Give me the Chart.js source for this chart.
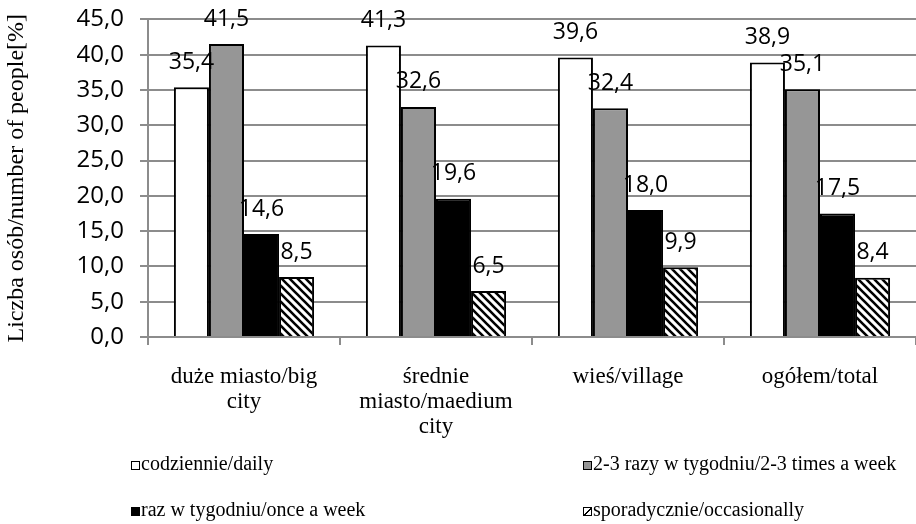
<!DOCTYPE html>
<html>
<head>
<meta charset="utf-8">
<script src="https://cdn.jsdelivr.net/npm/chart.js@4.4.1/dist/chart.umd.min.js"></script>
<style>
    html, body { margin: 0; padding: 0; background: #fff; overflow: hidden; }
    #wrap { position: relative; width: 916px; height: 524px; overflow: hidden; }
    #chart { position: absolute; left: 0; top: -11px; }
    #legend {
        position: absolute; left: 131px; top: 440px; width: 785px;
        display: grid; grid-template-columns: 452px auto; grid-auto-rows: 46px;
        font-family: 'Liberation Serif', 'Times New Roman', serif; font-size: 20px; line-height: 46px; color: #000;
    }
    .item { white-space: nowrap; }
    .box { display: inline-block; width: 7px; height: 7px; border: 1.5px solid #000; margin-right: 1px; vertical-align: baseline; }
</style>
</head>
<body>
<div id="wrap">
    <canvas id="chart" width="916" height="476" style="width:916px;height:476px;display:block"></canvas>
    <div id="legend"></div>
</div>
<script>
const categories = [
    ['duże miasto/big', 'city'],
    ['średnie', 'miasto/maedium', 'city'],
    'wieś/village',
    'ogółem/total'
];
const seriesNames = [
    'codziennie/daily',
    '2-3 razy w tygodniu/2-3 times a week',
    'raz w tygodniu/once a week',
    'sporadycznie/occasionally'
];
const daily = [35.4, 41.3, 39.6, 38.9];
const twoThreeWeek = [41.5, 32.6, 32.4, 35.1];
const onceWeek = [14.6, 19.6, 18.0, 17.5];
const occasionally = [8.5, 6.5, 9.9, 8.4];

// diagonal stripe pattern for the last series
function makeHatch() {
    const c = document.createElement('canvas');
    c.width = 8; c.height = 8;
    const g = c.getContext('2d');
    g.fillStyle = '#fff';
    g.fillRect(0, 0, 8, 8);
    g.strokeStyle = '#000';
    g.lineWidth = 2.6;
    g.beginPath();
    g.moveTo(-2, -2); g.lineTo(10, 10);
    g.moveTo(-10, -2); g.lineTo(2, 10);
    g.moveTo(6, -2); g.lineTo(18, 10);
    g.stroke();
    return g.createPattern(c, 'repeat');
}
const ctx = document.getElementById('chart').getContext('2d');
const hatch = makeHatch();
const fills = ['#ffffff', '#969696', '#000000', hatch];

const serif = "'Liberation Serif', 'Times New Roman', serif";
const sans = "'Open Sans', sans-serif";

const valueLabels = {
    id: 'valueLabels',
    afterDatasetsDraw(chart) {
        const c = chart.ctx;
        c.save();
        c.font = '23px ' + sans;
        c.fillStyle = '#000';
        c.textAlign = 'center';
        c.textBaseline = 'middle';
        chart.data.datasets.forEach((ds, i) => {
            chart.getDatasetMeta(i).data.forEach((bar, j) => {
                c.fillText(ds.data[j].toFixed(1).replace('.', ','), bar.x, bar.y - 25);
            });
        });
        c.restore();
    }
};

const gridGrey = '#8c8c8c';

const chart = new Chart(ctx, {
    type: 'bar',
    data: {
        labels: categories,
        datasets: [daily, twoThreeWeek, onceWeek, occasionally].map((d, i) => ({
            label: seriesNames[i],
            data: d,
            backgroundColor: fills[i],
            borderColor: '#000',
            borderWidth: 2,
            categoryPercentage: 0.73,
            barPercentage: 1.0
        }))
    },
    options: {
        responsive: false,
        animation: false,
        layout: { padding: { top: 0, right: 0, left: 2, bottom: 0 } },
        plugins: {
            legend: { display: false },
            tooltip: { enabled: false }
        },
        scales: {
            y: {
                min: 0,
                max: 45,
                ticks: {
                    stepSize: 5,
                    color: '#000',
                    font: { family: sans, size: 24 },
                    padding: 16,
                    callback: v => v.toFixed(1).replace('.', ',')
                },
                grid: { color: gridGrey, lineWidth: 2, tickLength: 8 },
                border: { color: gridGrey, width: 2 },
                title: {
                    display: true,
                    text: 'Liczba osób/number of people[%]',
                    color: '#000',
                    font: { family: serif, size: 24 },
                    padding: 0
                },
                afterFit: s => { s.width = 146; }
            },
            x: {
                ticks: {
                    color: '#000',
                    font: { family: serif, size: 23, lineHeight: 1.07 },
                    padding: 20,
                    maxRotation: 0
                },
                grid: { drawOnChartArea: false, color: gridGrey, lineWidth: 2, tickLength: 8 },
                border: { color: gridGrey, width: 2 },
                afterFit: s => { s.height = 128; }
            }
        }
    },
    plugins: [valueLabels]
});

// legend in two columns, built from the datasets
const legend = document.getElementById('legend');
chart.data.datasets.forEach((ds, i) => {
    const item = document.createElement('div');
    item.className = 'item';
    const box = document.createElement('span');
    box.className = 'box';
    if (i === 3) {
        box.style.background = 'linear-gradient(135deg, #fff 45%, #000 45%, #000 62%, #fff 62%)';
    } else {
        box.style.background = fills[i];
    }
    item.appendChild(box);
    item.appendChild(document.createTextNode(ds.label));
    legend.appendChild(item);
});
</script>
</body>
</html>
